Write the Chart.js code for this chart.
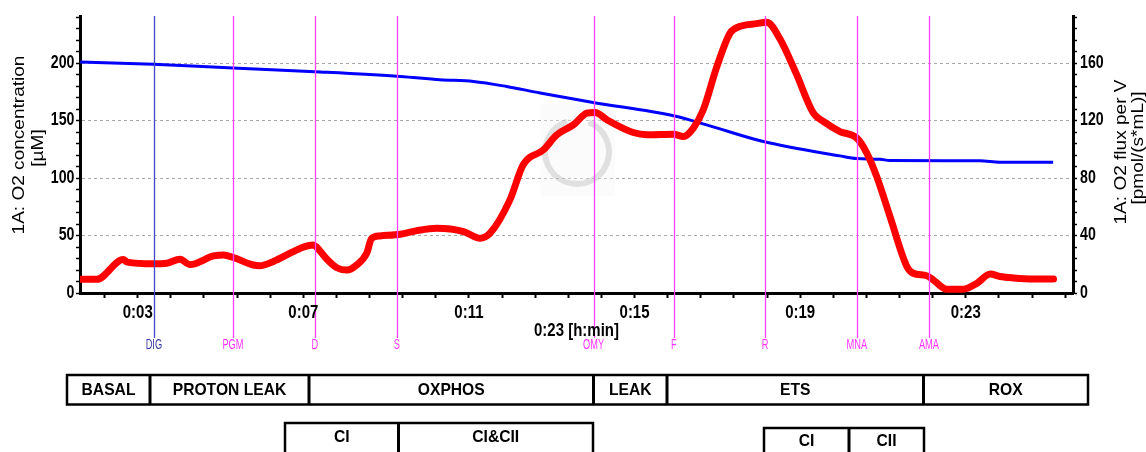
<!DOCTYPE html>
<html>
<head>
<meta charset="utf-8">
<script src="https://cdn.jsdelivr.net/npm/chart.js@4.4.1/dist/chart.umd.min.js"></script>
<style>
  html, body { margin: 0; padding: 0; background: #fff; }
  #wrap { position: relative; width: 1146px; height: 452px; }
</style>
</head>
<body>
<div id="wrap"><canvas id="oxygraphChart"></canvas></div>
<script>
// time in minutes
const o2Times = [1.61, 3.38, 5.30, 7.28, 9.34, 10.30, 11.11, 11.91, 12.72, 14.00, 15.94, 16.74, 18.11, 19.96, 20.37, 20.93, 21.17, 23.34, 23.83, 25.11];
const o2Values = [201, 199, 195.7, 192.5, 188.4, 185.5, 184.1, 179.7, 174.0, 165.8, 154.2, 146.3, 131.8, 119.3, 117.0, 116.4, 115.2, 115.0, 113.8, 113.8];

const fluxTimes = [1.61, 2.01, 2.65, 2.75, 3.38, 3.70, 4.02, 4.26, 4.83, 5.07, 5.31, 5.79, 5.95, 6.28, 6.60, 6.92, 7.24, 7.32, 7.57, 7.81, 8.05, 8.29, 8.53, 8.65, 8.85, 9.34, 9.74, 10.22, 10.87, 11.27, 11.51, 11.99, 12.31, 12.80, 13.12, 13.52, 13.85, 14.05, 14.33, 14.97, 15.30, 15.94, 16.18, 16.42, 16.66, 16.99, 17.31, 17.55, 17.95, 18.19, 18.51, 18.90, 19.32, 19.56, 19.96, 20.37, 20.61, 20.85, 21.17, 21.58, 21.73, 22.06, 22.22, 22.54, 22.94, 23.27, 23.59, 23.83, 24.15, 24.63, 25.12];
const fluxValues = [9.5, 9.5, 23.3, 21.5, 20.3, 20.7, 23.5, 19.8, 25.8, 26.5, 24.7, 19.5, 19.0, 22.0, 26.5, 31.0, 33.4, 32.0, 23.5, 17.6, 16.0, 19.5, 27.6, 38.0, 39.7, 40.9, 43.4, 45.1, 42.8, 38.1, 41.6, 64.8, 89.2, 99.7, 110.0, 117.0, 125.2, 125.7, 120.6, 111.7, 110.1, 110.5, 108.9, 114.8, 127.5, 157.7, 181.0, 185.6, 187.5, 188.4, 177.0, 153.0, 125.2, 119.4, 112.4, 107.8, 97.4, 81.0, 53.2, 18.3, 13.7, 12.0, 9.0, 2.6, 2.6, 6.8, 13.2, 11.5, 10.5, 9.8, 9.8];

const eventNames = ['DIG', 'PGM', 'D', 'S', 'OMY', 'F', 'R', 'MNA', 'AMA'];
const eventTimes = [3.39, 5.30, 7.28, 9.26, 14.01, 15.95, 18.15, 20.37, 22.11];

const xLabelTimes = [3, 7, 11, 15, 19, 23];
const xTickLabels = ['0:03', '0:07', '0:11', '0:15', '0:19', '0:23'];
const o2TickLabels = [0, 50, 100, 150, 200];
const fluxTickLabels = [0, 40, 80, 120, 160];

const stateRow = ['BASAL', 'PROTON LEAK', 'OXPHOS', 'LEAK', 'ETS', 'ROX'];
const oxphosRow = ['CI', 'CI&CII'];
const etsRow = ['CI', 'CII'];

// layout (pixels)
const rowEdges = [67, 150, 309, 593.5, 667, 923.5, 1088];
const oxphosEdges = [285, 398.5, 593];
const etsEdges = [764, 849, 924];

const FONT = "'Liberation Sans', Arial, sans-serif";

function stepTicks(step, max) {
  return function (scale) {
    const t = [];
    for (let k = 0; k * step <= max + 1e-9; k++) t.push({ value: k * step });
    scale.ticks = t;
  };
}

// condensed text: the original export is squeezed horizontally
function narrowText(ctx, text, x, y, sx, align) {
  ctx.save();
  ctx.translate(x, y);
  ctx.scale(sx, 1);
  ctx.textAlign = align || 'center';
  ctx.textBaseline = 'middle';
  ctx.fillText(text, 0, 0);
  ctx.restore();
}

function vText(ctx, text, cx, cy) {
  ctx.save();
  ctx.translate(cx, cy);
  ctx.rotate(-Math.PI / 2);
  ctx.scale(1.12, 1);
  ctx.textAlign = 'center';
  ctx.textBaseline = 'middle';
  ctx.fillText(text, 0, 0);
  ctx.restore();
}

function boxRow(ctx, edges, labels, top, bottom, textY) {
  ctx.lineWidth = 2.5;
  ctx.strokeStyle = '#000';
  ctx.strokeRect(edges[0], top, edges[edges.length - 1] - edges[0], bottom - top);
  ctx.lineWidth = 3;
  for (let i = 1; i < edges.length - 1; i++) {
    ctx.beginPath();
    ctx.moveTo(edges[i], top);
    ctx.lineTo(edges[i], bottom);
    ctx.stroke();
  }
  ctx.fillStyle = '#000';
  ctx.font = 'bold 17px ' + FONT;
  labels.forEach((l, i) => narrowText(ctx, l, (edges[i] + edges[i + 1]) / 2, textY, 0.92));
}

const overlay = {
  id: 'overlay',
  beforeDatasetsDraw(chart) {
    // faint watermark logo behind the traces
    const { ctx } = chart;
    ctx.save();
    ctx.fillStyle = 'rgba(240,244,240,0.35)';
    ctx.fillRect(541, 104, 74, 92);
    ctx.strokeStyle = 'rgba(175,175,175,0.35)';
    ctx.lineWidth = 6;
    ctx.beginPath();
    ctx.arc(577, 152, 32, -1.2, 4.4);
    ctx.stroke();
    ctx.restore();
  },
  afterDatasetsDraw(chart) {
    const { ctx, chartArea } = chart;
    const x = chart.scales.x;
    ctx.save();
    ctx.lineWidth = 1.3;
    eventTimes.forEach((t, i) => {
      const px = Math.round(x.getPixelForValue(t)) + 0.5;
      ctx.strokeStyle = i === 0 ? '#4545c8' : '#ff40ff';
      ctx.beginPath();
      ctx.moveTo(px, chartArea.top);
      ctx.lineTo(px, chartArea.bottom + 45);
      ctx.stroke();
    });
    ctx.restore();
  },
  afterDraw(chart) {
    const { ctx, chartArea } = chart;
    const { x, yO2, yFlux } = chart.scales;
    ctx.save();
    ctx.fillStyle = '#000';
    // tick labels
    ctx.font = 'bold 18.5px ' + FONT;
    xLabelTimes.forEach((t, i) => narrowText(ctx, xTickLabels[i], x.getPixelForValue(t), 312.5, 0.81));
    ctx.font = 'bold 17.5px ' + FONT;
    o2TickLabels.forEach(v => narrowText(ctx, String(v), yO2.left + 74.5, yO2.getPixelForValue(v), 0.81, 'right'));
    fluxTickLabels.forEach(v => narrowText(ctx, String(v), yFlux.left + 7, yFlux.getPixelForValue(v), 0.81, 'left'));
    // axis titles
    ctx.font = '17px ' + FONT;
    vText(ctx, '1A: O2 concentration', 19, 145);
    vText(ctx, '[µM]', 38, 148);
    vText(ctx, '1A: O2 flux per V', 1121, 152);
    vText(ctx, '[pmol/(s*mL)]', 1138, 148);
    ctx.font = 'bold 18.5px ' + FONT;
    narrowText(ctx, '0:23 [h:min]', (chartArea.left + chartArea.right) / 2, 331, 0.81);
    // event labels
    ctx.font = '14px ' + FONT;
    eventTimes.forEach((t, i) => {
      ctx.fillStyle = i === 0 ? '#3a3aa8' : '#ff33ff';
      narrowText(ctx, eventNames[i], x.getPixelForValue(t), 345, 0.66);
    });
    // respiratory state boxes
    boxRow(ctx, rowEdges, stateRow, 375, 404.5, 390);
    boxRow(ctx, oxphosEdges, oxphosRow, 423, 470, 437.5);
    boxRow(ctx, etsEdges, etsRow, 428, 470, 441.5);
    ctx.restore();
  }
};

const ctx = document.getElementById('oxygraphChart').getContext('2d');
const myChart = new Chart(ctx, {
  type: 'line',
  data: {
    datasets: [
      {
        label: 'O2 flux per V',
        data: fluxTimes.map((t, i) => ({ x: t, y: fluxValues[i] })),
        yAxisID: 'yFlux',
        borderColor: '#ff0000',
        borderWidth: 7,
        borderCapStyle: 'round',
        borderJoinStyle: 'round',
        pointRadius: 0,
        cubicInterpolationMode: 'monotone'
      },
      {
        label: 'O2 concentration',
        data: o2Times.map((t, i) => ({ x: t, y: o2Values[i] })),
        yAxisID: 'yO2',
        borderColor: '#0000ff',
        borderWidth: 3,
        pointRadius: 0,
        cubicInterpolationMode: 'monotone'
      }
    ]
  },
  options: {
    responsive: true,
    maintainAspectRatio: false,
    animation: false,
    devicePixelRatio: 1,
    layout: { padding: { top: 16, left: 0, right: 0, bottom: 0 } },
    plugins: { legend: { display: false }, tooltip: { enabled: false } },
    scales: {
      x: {
        type: 'linear',
        position: 'bottom',
        min: 1.606,
        max: 25.59,
        afterBuildTicks(scale) {
          const t = [];
          for (let k = -1; k <= 28; k++) {
            const v = Math.round((xLabelTimes[0] + k * 0.8) * 100) / 100;
            if (v >= scale.min && v <= scale.max) t.push({ value: v });
          }
          scale.ticks = t;
        },
        afterFit(scale) { scale.height = 159; },
        ticks: { display: false, autoSkip: false },
        grid: { drawOnChartArea: false, tickLength: 5, tickColor: '#000', tickWidth: 2 },
        border: { color: '#000', width: 3 }
      },
      yO2: {
        type: 'linear',
        position: 'left',
        min: 0,
        max: 241,
        afterBuildTicks: stepTicks(10, 241),
        afterFit(scale) { scale.width = 80; },
        ticks: { display: false, autoSkip: false },
        grid: {
          color: c => (c.tick && c.tick.value > 0 && o2TickLabels.includes(c.tick.value)) ? '#a8a8a8' : 'rgba(0,0,0,0)',
          lineWidth: 1,
          tickLength: 4,
          tickColor: '#000',
          tickWidth: 1.5
        },
        border: { color: '#000', width: 3, dash: [3, 3] }
      },
      yFlux: {
        type: 'linear',
        position: 'right',
        min: 0,
        max: 192.8,
        afterBuildTicks: stepTicks(8, 192.8),
        afterFit(scale) { scale.width = 73; },
        ticks: { display: false, autoSkip: false },
        grid: { drawOnChartArea: false, tickLength: 4, tickColor: '#000', tickWidth: 1.5 },
        border: { color: '#000', width: 3 }
      }
    }
  },
  plugins: [overlay]
});
</script>
</body>
</html>
